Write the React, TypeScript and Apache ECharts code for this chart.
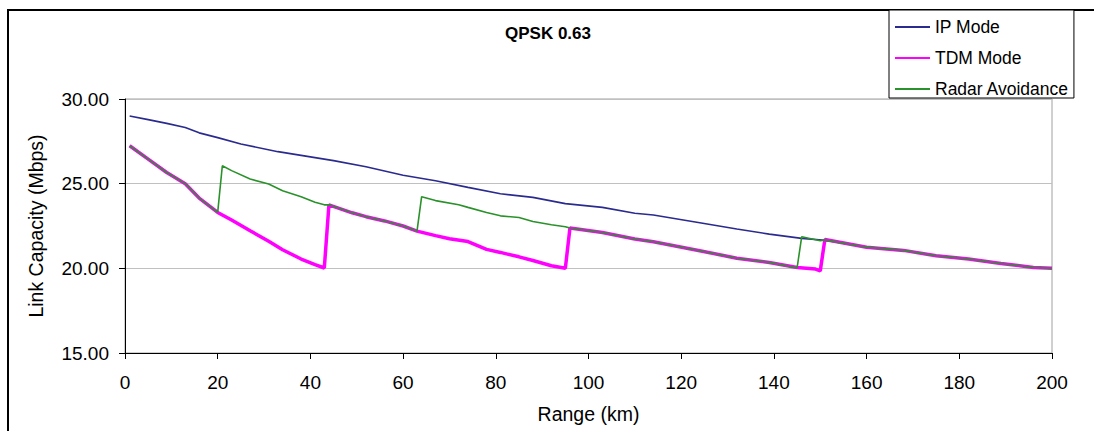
import React, { useEffect, useRef } from "react";
import * as echarts from "echarts";

// Range (km) sample points and link capacities (Mbps)
const ipRange = [1, 5, 9, 13, 16, 20, 25, 33, 38, 45, 52, 60, 67, 74, 81, 88, 95, 103, 110, 114, 124, 132, 139, 146, 151, 160, 168, 175, 182, 189, 196, 200];
const ipValues = [29.0, 28.78, 28.56, 28.32, 28.0, 27.72, 27.34, 26.89, 26.67, 26.36, 26.0, 25.5, 25.17, 24.78, 24.4, 24.19, 23.82, 23.6, 23.25, 23.15, 22.69, 22.32, 22.02, 21.77, 21.66, 21.25, 21.06, 20.74, 20.55, 20.29, 20.05, 20.0];

const tdmRange = [1, 5, 9, 13, 16, 20, 23, 27, 31, 34, 38, 41, 43, 44, 49, 52, 56, 60, 63, 67, 70, 74, 78, 81, 85, 88, 92, 95, 96, 103, 110, 114, 124, 132, 139, 145, 149, 150, 151, 160, 168, 175, 182, 189, 196, 200];
const tdmValues = [27.24, 26.45, 25.66, 25.0, 24.15, 23.3, 22.85, 22.22, 21.6, 21.1, 20.55, 20.22, 20.02, 23.75, 23.28, 23.05, 22.8, 22.5, 22.2, 21.93, 21.75, 21.58, 21.12, 20.94, 20.68, 20.46, 20.15, 20.0, 22.38, 22.12, 21.73, 21.57, 21.04, 20.6, 20.35, 20.05, 19.96, 19.85, 21.7, 21.25, 21.06, 20.74, 20.55, 20.29, 20.05, 20.0];

const radarRange = [1, 5, 9, 13, 16, 20, 21, 23, 27, 31, 34, 38, 41, 43, 44, 49, 52, 56, 60, 63, 64, 67, 72, 74, 78, 81, 85, 88, 92, 95, 96, 103, 110, 114, 124, 132, 139, 145, 146, 150, 151, 160, 168, 175, 182, 189, 196, 200];
const radarValues = [27.24, 26.45, 25.66, 25.0, 24.15, 23.3, 26.06, 25.77, 25.27, 24.98, 24.58, 24.23, 23.9, 23.75, 23.75, 23.28, 23.05, 22.8, 22.5, 22.2, 24.23, 24.0, 23.76, 23.6, 23.3, 23.1, 23.0, 22.77, 22.57, 22.46, 22.38, 22.12, 21.73, 21.57, 21.04, 20.6, 20.35, 20.02, 21.87, 21.63, 21.68, 21.25, 21.06, 20.74, 20.55, 20.29, 20.05, 20.0];

const seriesNames = ["IP Mode", "TDM Mode", "Radar Avoidance"];
const titleText = "QPSK 0.63";
const xAxisTitle = "Range (km)";
const yAxisTitle = "Link Capacity (Mbps)";

const FONT = "'Liberation Sans', Arial, sans-serif";

function pairs(xs: number[], ys: number[]) {
  return xs.map((x, i) => [x, ys[i]]);
}

export default function App() {
  const ref = useRef<HTMLDivElement>(null);
  useEffect(() => {
    if (!ref.current) return;
    const chart = echarts.init(ref.current, null, { renderer: "svg" });
    chart.setOption({
      animation: false,
      backgroundColor: "#ffffff",
      textStyle: { fontFamily: FONT },
      title: {
        text: titleText,
        left: 505,
        top: 25,
        padding: 0,
        textStyle: { fontFamily: FONT, fontSize: 17, fontWeight: "bold", color: "#000" },
      },
      graphic: [
        {
          type: "rect",
          shape: { x: 8, y: 10, width: 1300, height: 600 },
          style: { fill: "none", stroke: "#000", lineWidth: 2 },
          z: -10,
          silent: true,
        },
      ],
      legend: {
        orient: "vertical",
        left: 889,
        top: 10,
        data: seriesNames,
        icon: "rect",
        itemWidth: 35,
        itemHeight: 2,
        itemGap: 13,
        padding: [8, 5, 0, 6],
        borderColor: "#000",
        borderWidth: 1,
        backgroundColor: "#fff",
        textStyle: { fontFamily: FONT, fontSize: 17.5, color: "#000" },
      },
      grid: {
        left: 125,
        right: 42,
        top: 99,
        bottom: 78,
        show: true,
        borderColor: "#a0a0a0",
        borderWidth: 1,
        backgroundColor: "#fff",
      },
      xAxis: {
        type: "value",
        min: 0,
        max: 200,
        interval: 20,
        name: xAxisTitle,
        nameLocation: "middle",
        nameGap: 51,
        nameTextStyle: { fontFamily: FONT, fontSize: 19.5, color: "#000" },
        axisLine: { lineStyle: { color: "#000", width: 1 } },
        axisTick: { show: true, inside: false, length: 6, lineStyle: { color: "#000" } },
        axisLabel: { fontFamily: FONT, fontSize: 19, color: "#000", margin: 20 },
        splitLine: { show: false },
      },
      yAxis: {
        type: "value",
        min: 15,
        max: 30,
        interval: 5,
        name: yAxisTitle,
        nameLocation: "middle",
        nameGap: 79,
        nameTextStyle: { fontFamily: FONT, fontSize: 19.5, color: "#000" },
        axisLine: { show: true, lineStyle: { color: "#000", width: 1 } },
        axisTick: { show: true, inside: false, length: 6, lineStyle: { color: "#000" } },
        axisLabel: {
          fontFamily: FONT,
          fontSize: 19,
          color: "#000",
          margin: 16,
          formatter: (v: number) => v.toFixed(2),
        },
        splitLine: { show: true, lineStyle: { color: "#c0c0c0", width: 1 } },
      },
      series: [
        {
          name: seriesNames[0],
          type: "line",
          data: pairs(ipRange, ipValues),
          showSymbol: false,
          symbol: "none",
          lineStyle: { color: "#2b2b8f", width: 1.6 },
          itemStyle: { color: "#2b2b8f" },
          z: 2,
        },
        {
          name: seriesNames[1],
          type: "line",
          data: pairs(tdmRange, tdmValues),
          showSymbol: false,
          symbol: "none",
          lineStyle: { color: "#ff00ff", width: 3.5 },
          itemStyle: { color: "#ff00ff" },
          z: 3,
        },
        {
          name: seriesNames[2],
          type: "line",
          data: pairs(radarRange, radarValues),
          showSymbol: false,
          symbol: "none",
          lineStyle: { color: "#2a922a", width: 1.6 },
          itemStyle: { color: "#2a922a" },
          z: 4,
        },
      ],
    });
    return () => chart.dispose();
  }, []);
  return (
    <div
      ref={ref}
      style={{ position: "fixed", left: 0, top: 0, width: 1094, height: 431 }}
    />
  );
}
